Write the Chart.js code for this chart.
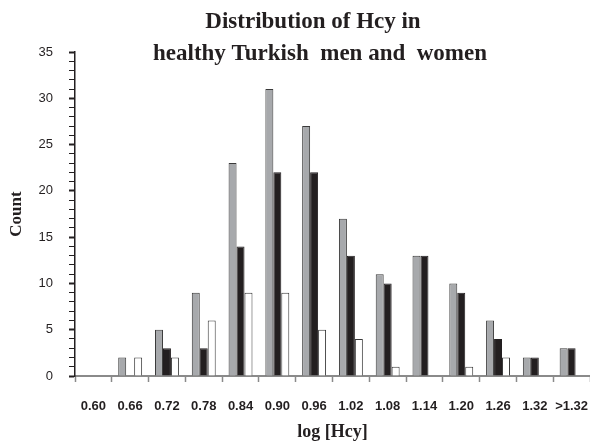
<!DOCTYPE html>
<html lang="en">
  <head>
    <meta charset="UTF-8" />
    <title>Distribution of Hcy</title>
    <script src="https://cdn.jsdelivr.net/npm/chart.js@4"></script>
    <style>
      html, body { margin: 0; padding: 0; background: #fff; }
    </style>
  </head>
  <body>
<canvas id="hcyChart" width="590" height="441"></canvas>

<script>
// bins of log[Hcy]
const bins = ['0.60', '0.66', '0.72', '0.78', '0.84', '0.90', '0.96', '1.02', '1.08', '1.14', '1.20', '1.26', '1.32', '>1.32'];

// counts per bin
const grayCounts  = [0, 2, 5, 9, 23, 31, 27, 17, 11, 13, 10, 6, 2, 3];
const blackCounts = [0, 0, 3, 3, 14, 22, 22, 13, 10, 13, 9, 4, 2, 3];
const whiteCounts = [0, 2, 2, 6, 9, 9, 5, 4, 1, 0, 1, 2, 0, 0];

const titleLines = ['Distribution of Hcy in', 'healthy Turkish  men and  women'];

const ink = '#231f20';

// title is drawn by hand so it can sit a bit left of the plot centre
const titlePlugin = {
  id: 'twoLineTitle',
  afterDraw(chart) {
    const ctx = chart.ctx;
    ctx.save();
    ctx.fillStyle = ink;
    ctx.font = 'bold 23px "Liberation Serif", "Times New Roman", serif';
    ctx.textAlign = 'center';
    ctx.textBaseline = 'alphabetic';
    ctx.fillText(titleLines[0], 313, 28);
    ctx.fillText(titleLines[1], 320, 60);
    ctx.restore();
  }
};

const ctx = document.getElementById('hcyChart').getContext('2d');
const myChart = new Chart(ctx, {
  type: 'bar',
  data: {
    labels: bins,
    datasets: [
      {
        data: grayCounts,
        backgroundColor: '#a7a9ac',
        borderColor: '#3a3a3a',
        borderWidth: 1,
        borderSkipped: 'bottom'
      },
      {
        data: blackCounts,
        backgroundColor: ink,
        borderColor: ink,
        borderWidth: 1,
        borderSkipped: 'bottom'
      },
      {
        data: whiteCounts,
        backgroundColor: '#ffffff',
        borderColor: '#3a3a3a',
        borderWidth: 1,
        borderSkipped: 'bottom'
      }
    ]
  },
  options: {
    responsive: false,
    animation: false,
    events: [],
    layout: { padding: { top: 52, left: 2, right: 0, bottom: 0 } },
    plugins: {
      legend: { display: false },
      tooltip: { enabled: false },
      title: { display: false }
    },
    datasets: {
      bar: { categoryPercentage: 0.65, barPercentage: 1.0 }
    },
    scales: {
      x: {
        offset: true,
        grid: {
          offset: true,
          drawOnChartArea: false,
          drawTicks: true,
          tickLength: 6,
          tickColor: '#8a8a8a',
          tickWidth: 1.5
        },
        border: { color: '#8a8a8a', width: 2 },
        ticks: {
          color: ink,
          padding: 17,
          maxRotation: 0,
          autoSkip: false,
          font: { family: '"Liberation Sans", Arial, sans-serif', size: 13, weight: 'bold' }
        },
        title: {
          display: true,
          text: 'log [Hcy]',
          color: ink,
          padding: { top: 0, bottom: 0 },
          font: { family: '"Liberation Serif", "Times New Roman", serif', size: 18, weight: 'bold', lineHeight: 1 }
        },
        afterFit(scale) {
          scale.height = 65;
          scale.paddingLeft = 0;
          scale.paddingRight = 0;
        }
      },
      y: {
        min: 0,
        max: 35,
        grid: {
          drawOnChartArea: false,
          drawTicks: true,
          tickLength: 6,
          tickColor: ink,
          tickWidth: (c) => (c.tick && c.tick.value % 5 === 0 ? 2 : 1)
        },
        border: { color: ink, width: 1.5 },
        ticks: {
          stepSize: 1,
          autoSkip: false,
          color: ink,
          padding: 16,
          font: { family: '"Liberation Sans", Arial, sans-serif', size: 13 },
          callback: (v) => (v % 5 === 0 ? v : '')
        },
        title: {
          display: true,
          text: 'Count',
          color: ink,
          padding: { top: 4, bottom: 0 },
          font: { family: '"Liberation Serif", "Times New Roman", serif', size: 17, weight: 'bold' }
        },
        afterFit(scale) {
          scale.width = 73;
          scale.paddingTop = 0;
          scale.paddingBottom = 0;
        }
      }
    }
  },
  plugins: [titlePlugin]
});
</script>
  </body>
</html>
